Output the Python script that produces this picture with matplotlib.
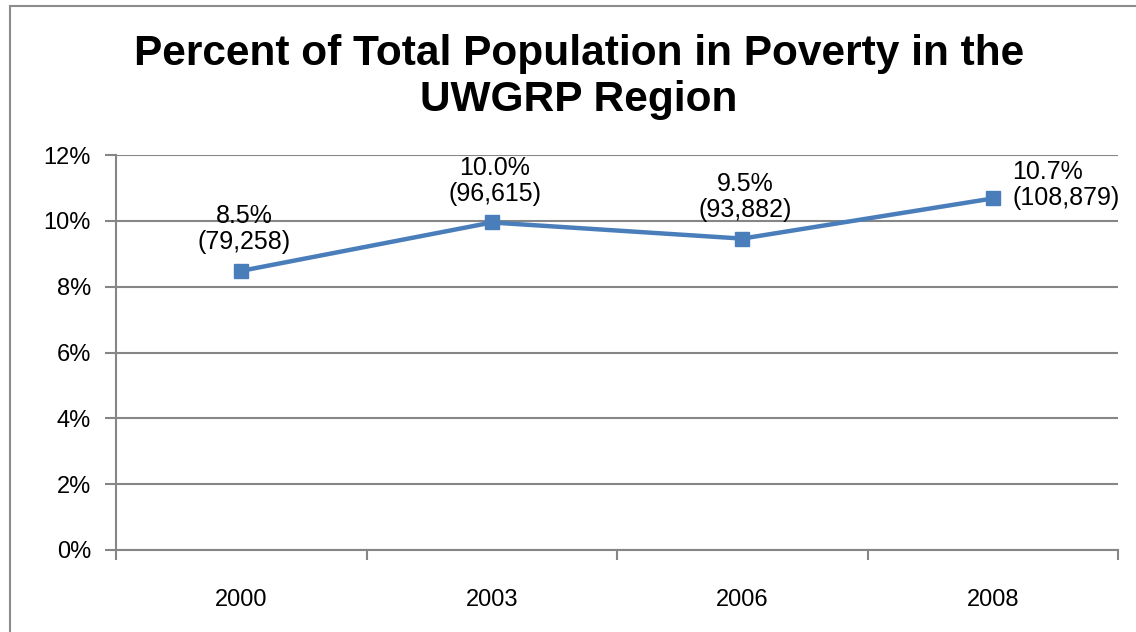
import numpy as np
import matplotlib.pyplot as plt
from matplotlib.patches import Rectangle

plt.rcParams['font.family'] = ['Liberation Sans', 'DejaVu Sans']

years = ['2000', '2003', '2006', '2008']
pct = [8.48, 9.95, 9.46, 10.68]
pct_labels = ['8.5%', '10.0%', '9.5%', '10.7%']
people = ['(79,258)', '(96,615)', '(93,882)', '(108,879)']

W, H = 1136, 632
fig = plt.figure(figsize=(W / 100, H / 100), dpi=100)
ax = fig.add_axes([116 / W, 1 - 550 / H, (1118 - 116) / W, (550 - 155) / H])

# chart frame (runs off the right and bottom edge like the screenshot)
fig.patches.append(Rectangle((10 / W, -0.05), 1.2, 1 - 6 / H + 0.05, transform=fig.transFigure,
                             fill=False, edgecolor='#8c8c8c', linewidth=1.5))

x = np.arange(len(years))
ax.plot(x, pct, color='#4a7ebb', linewidth=3.2, marker='s', markersize=10,
        markerfacecolor='#4a7ebb', markeredgecolor='#4a7ebb', zorder=3)

ax.set_xlim(-0.5, len(years) - 0.5)
ax.set_ylim(0, 12)
ax.set_yticks(range(0, 13, 2))
ax.set_yticklabels([f'{v}%' for v in range(0, 13, 2)], fontsize=17)
ax.set_xticks(x)
ax.set_xticklabels(years, fontsize=17)
ax.set_xticks(np.arange(-0.5, len(years)), minor=True)
ax.tick_params(axis='x', which='major', length=0, pad=28)
ax.tick_params(axis='x', which='minor', length=7, width=1.5, color='#868686', direction='out')
ax.tick_params(axis='y', length=8, width=1.5, color='#868686', direction='out', pad=10)

ax.grid(axis='y', color='#868686', linewidth=1.5)
ax.set_axisbelow(True)
for s in ['top', 'right']:
    ax.spines[s].set_visible(False)
for s in ['left', 'bottom']:
    ax.spines[s].set_color('#868686')
    ax.spines[s].set_linewidth(1.5)

# data labels
for i in range(len(years)):
    txt = pct_labels[i] + '\n' + people[i]
    if i == len(years) - 1:
        ax.annotate(txt, (x[i], pct[i]), xytext=(14, 10), textcoords='offset points',
                    ha='left', va='center', fontsize=18, linespacing=1.1)
    else:
        ax.annotate(txt, (x[i], pct[i]), xytext=(2, 12), textcoords='offset points',
                    ha='center', va='bottom', fontsize=18, linespacing=1.1)

fig.text(0.5 + 11 / W, 1 - 77 / H, 'Percent of Total Population in Poverty in the\nUWGRP Region',
         ha='center', va='center', fontsize=30.5, fontweight='bold', linespacing=1.22)

fig.savefig('out.png', dpi=100)
